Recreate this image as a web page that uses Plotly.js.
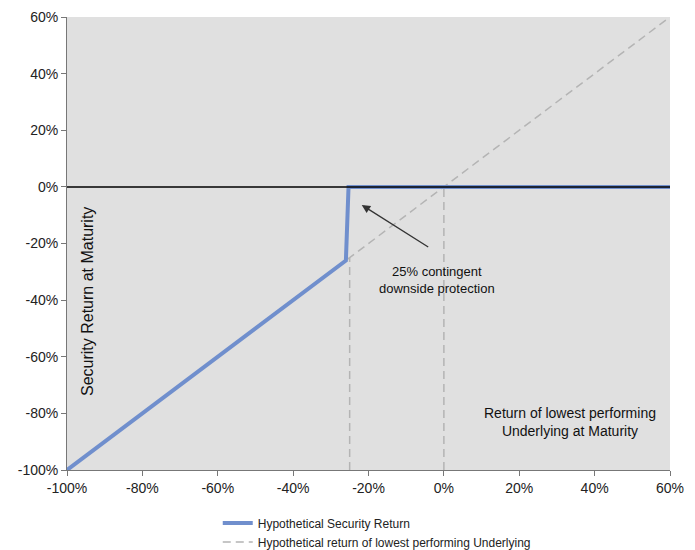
<!DOCTYPE html>
<html>
<head>
<meta charset="utf-8">
<script src="https://cdn.plot.ly/plotly-3.0.1.min.js"></script>
<style>html,body{margin:0;padding:0;background:#fff;}#chart{width:695px;height:550px;}</style>
</head>
<body>
<div id="chart"></div>
<script>
// Data (returns in %)
const securityX = [-100, -26, -25.3, 60];
const securityY = [-100, -26, 0, 0];
const underlyingX = [-100, 60];
const underlyingY = [-100, 60];
const barrierX = [-25, -25];
const barrierY = [-100, -25];
const zeroRefX = [0, 0];
const zeroRefY = [-100, 0];
const tickVals = [-100, -80, -60, -40, -20, 0, 20, 40, 60];
const tickText = ['-100%', '-80%', '-60%', '-40%', '-20%', '0%', '20%', '40%', '60%'];
const seriesNames = ['Hypothetical Security Return', 'Hypothetical return of lowest performing Underlying'];

const gray = 'rgb(180,180,180)';
const dashStyle = '8px,5px';

const traces = [
  {x: barrierX, y: barrierY, mode: 'lines', line: {color: gray, width: 1.5, dash: dashStyle}, showlegend: false, hoverinfo: 'skip'},
  {x: zeroRefX, y: zeroRefY, mode: 'lines', line: {color: gray, width: 1.5, dash: dashStyle}, showlegend: false, hoverinfo: 'skip'},
  {x: underlyingX, y: underlyingY, mode: 'lines', name: seriesNames[1], line: {color: gray, width: 1.5, dash: dashStyle}, legendrank: 2},
  {x: securityX, y: securityY, mode: 'lines', name: seriesNames[0], line: {color: 'rgb(112,143,205)', width: 4}, legendrank: 1}
];

const axisFont = {family: 'Liberation Sans, Arial, sans-serif', size: 14, color: '#222'};
const noteFont = {family: 'Liberation Sans, Arial, sans-serif', size: 13, color: '#111'};

const layout = {
  width: 695, height: 550,
  margin: {l: 67, r: 25, t: 17, b: 80, autoexpand: false},
  paper_bgcolor: '#ffffff',
  plot_bgcolor: 'rgb(224,224,224)',
  font: axisFont,
  xaxis: {
    range: [-100, 60], tickvals: tickVals, ticktext: tickText,
    showgrid: false, zeroline: false, showline: true, linecolor: '#777', linewidth: 1,
    ticks: 'outside', ticklen: 5, tickcolor: '#777', tickfont: axisFont
  },
  yaxis: {
    range: [-100, 60], tickvals: tickVals, ticktext: tickText,
    showgrid: false, zeroline: false, showline: true, linecolor: '#777', linewidth: 1,
    ticks: 'outside', ticklen: 5, tickcolor: '#777', tickfont: axisFont
  },
  shapes: [
    {type: 'line', xref: 'paper', x0: 0, x1: 1, yref: 'y', y0: 0, y1: 0, line: {color: '#000', width: 1.5}, layer: 'above'}
  ],
  showlegend: true,
  legend: {
    orientation: 'v', x: 0.25, xanchor: 'left', y: -0.085, yanchor: 'top',
    font: {family: 'Liberation Sans, Arial, sans-serif', size: 12, color: '#222'},
    itemwidth: 30, tracegroupgap: 0, bgcolor: 'rgba(0,0,0,0)'
  },
  annotations: [
    {xref: 'paper', yref: 'paper', x: 0.035, y: 0.371, xanchor: 'center', yanchor: 'middle',
     text: 'Security Return at Maturity', textangle: -90,
     showarrow: false, font: {family: 'Liberation Sans, Arial, sans-serif', size: 16, color: '#111'}},
    {xref: 'paper', yref: 'paper', x: 0.834, y: 0.106, xanchor: 'center', yanchor: 'middle',
     text: 'Return of lowest performing<br>Underlying at Maturity',
     showarrow: false, align: 'center', font: {family: 'Liberation Sans, Arial, sans-serif', size: 14, color: '#111'}},
    {xref: 'paper', yref: 'paper', x: 0.614, y: 0.419, xanchor: 'center', yanchor: 'middle',
     text: '25% contingent<br>downside protection',
     showarrow: false, align: 'center', font: noteFont},
    {xref: 'x', yref: 'y', x: -21.8, y: -6.4, ax: 68, ay: 43, axref: 'pixel', ayref: 'pixel', text: '',
     showarrow: true, arrowhead: 2, arrowsize: 1.3, arrowwidth: 1.3, arrowcolor: '#333'}
  ]
};

Plotly.newPlot('chart', traces, layout, {displayModeBar: false, staticPlot: true});
</script>
</body>
</html>
